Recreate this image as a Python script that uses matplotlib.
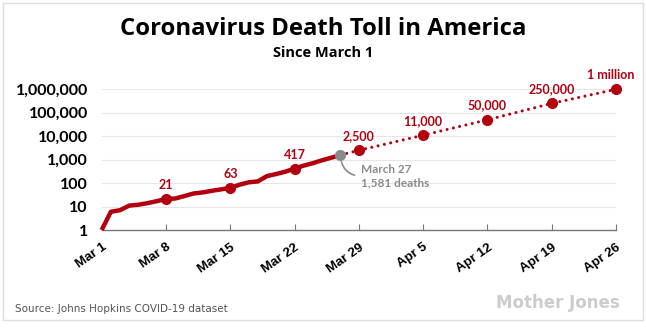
import matplotlib
matplotlib.use("Agg")
import matplotlib.pyplot as plt
from matplotlib import font_manager
from matplotlib.patches import Rectangle
import pandas as pd

# actual deaths, Mar 1 - Mar 27 (Johns Hopkins)
actual_dates = pd.date_range("2020-03-01", "2020-03-27")
actual_deaths = [1, 6, 7, 11, 12, 14, 17, 21, 22, 28, 36, 40, 47, 54, 63,
                 85, 108, 118, 200, 244, 307, 417, 557, 706, 942, 1209, 1581]

# labelled weekly points on the actual line
marked_dates = pd.to_datetime(["2020-03-08", "2020-03-15", "2020-03-22"])
marked_deaths = [21, 63, 417]
marked_labels = ["21", "63", "417"]

# projection
proj_dates = pd.to_datetime(["2020-03-27", "2020-03-29", "2020-04-05",
                             "2020-04-12", "2020-04-19", "2020-04-26"])
proj_deaths = [1581, 2500, 11000, 50000, 250000, 1000000]
proj_labels = ["", "2,500", "11,000", "50,000", "250,000", "1 million"]

tick_dates = pd.date_range("2020-03-01", "2020-04-26", freq="7D")
tick_labels = ["Mar 1", "Mar 8", "Mar 15", "Mar 22", "Mar 29",
               "Apr 5", "Apr 12", "Apr 19", "Apr 26"]
ytick_vals = [1, 10, 100, 1000, 10000, 100000, 1000000]
ytick_labels = ["1", "10", "100", "1,000", "10,000", "100,000", "1,000,000"]

RED = "#b3000f"
GREY = "#8a8a8a"

names = {f.name for f in font_manager.fontManager.ttflist}
logo_font = "Liberation Sans Narrow" if "Liberation Sans Narrow" in names else "DejaVu Sans"

fig = plt.figure(figsize=(6.46, 3.29), dpi=100)
ax = fig.add_axes([0.1574, 0.3009, 0.7962, 0.4277])

ax.set_yscale("log")
ax.set_ylim(1, 1e6)
ax.set_xlim(tick_dates[0], tick_dates[-1])

for v in ytick_vals[1:]:
    ax.axhline(v, color="#e6e6e6", lw=0.8, zorder=0)

ax.plot(actual_dates, actual_deaths, color=RED, lw=3.2, solid_capstyle="butt",
        clip_on=False, zorder=3)
ax.plot(proj_dates, proj_deaths, color=RED, lw=2.2, linestyle=(0, (0.01, 2.1)),
        dash_capstyle="round", clip_on=False, zorder=2)

ax.plot(marked_dates, marked_deaths, "o", color=RED, ms=7, zorder=4)
ax.plot(proj_dates[1:], proj_deaths[1:], "o", color=RED, ms=7, zorder=4, clip_on=False)
ax.plot(proj_dates[:1], proj_deaths[:1], "o", color=GREY, ms=7, zorder=5)

for d, v, s in zip(marked_dates, marked_deaths, marked_labels):
    ax.annotate(s, (d, v), xytext=(0, 5.5), textcoords="offset points", ha="center",
                va="bottom", color=RED, fontsize=9, fontweight="bold", family="Lato")
for d, v, s in zip(proj_dates[1:], proj_deaths[1:], proj_labels[1:]):
    dx = -4 if s == "1 million" else 0
    ax.annotate(s, (d, v), xytext=(dx, 6), textcoords="offset points", ha="center",
                va="bottom", color=RED, fontsize=9, fontweight="bold", family="Lato")

ax.annotate("March 27\n1,581 deaths", (proj_dates[0], proj_deaths[0]),
            xytext=(15, -6.5), textcoords="offset points", ha="left", va="top",
            color=GREY, fontsize=8.5, fontweight="bold", family="Lato", linespacing=1.3,
            arrowprops=dict(arrowstyle="-", color=GREY, lw=1.2, relpos=(0, 0.5),
                            shrinkA=3, shrinkB=5,
                            connectionstyle="arc3,rad=-0.45"))

ax.set_yticks(ytick_vals)
ax.set_yticklabels(ytick_labels, fontsize=11.5, fontweight="bold", family="Lato")
ax.yaxis.set_minor_locator(matplotlib.ticker.NullLocator())
ax.tick_params(axis="y", length=0, pad=10)

ax.set_xticks(tick_dates)
ax.set_xticklabels(tick_labels, rotation=35, ha="right", rotation_mode="anchor",
                   fontsize=9.5, fontweight="bold", family="Liberation Sans")
ax.tick_params(axis="x", direction="in", length=4, color="#777777", pad=8)

for s in ["top", "right", "left"]:
    ax.spines[s].set_visible(False)
ax.spines["bottom"].set_color("#777777")
ax.spines["bottom"].set_linewidth(1)

fig.text(0.5, 0.894, "Coronavirus Death Toll in America", ha="center", va="baseline",
         fontsize=17.2, fontweight="bold", family="Open Sans")
fig.text(0.5, 0.828, "Since March 1", ha="center", va="baseline",
         fontsize=10.5, fontweight="bold", family="Open Sans")
fig.text(0.023, 0.06, "Source: Johns Hopkins COVID-19 dataset", ha="left", va="center",
         fontsize=7.5, color="#555555", family="DejaVu Sans")
fig.text(0.96, 0.078, "Mother Jones", ha="right", va="center", fontsize=12,
         fontweight="bold", color="#cccccc", family=logo_font)

fig.patches.append(Rectangle((0.005, 0.027), 0.99, 0.965, transform=fig.transFigure,
                             fill=False, edgecolor="#dddddd", lw=1))

fig.savefig("out.png", dpi=100)
